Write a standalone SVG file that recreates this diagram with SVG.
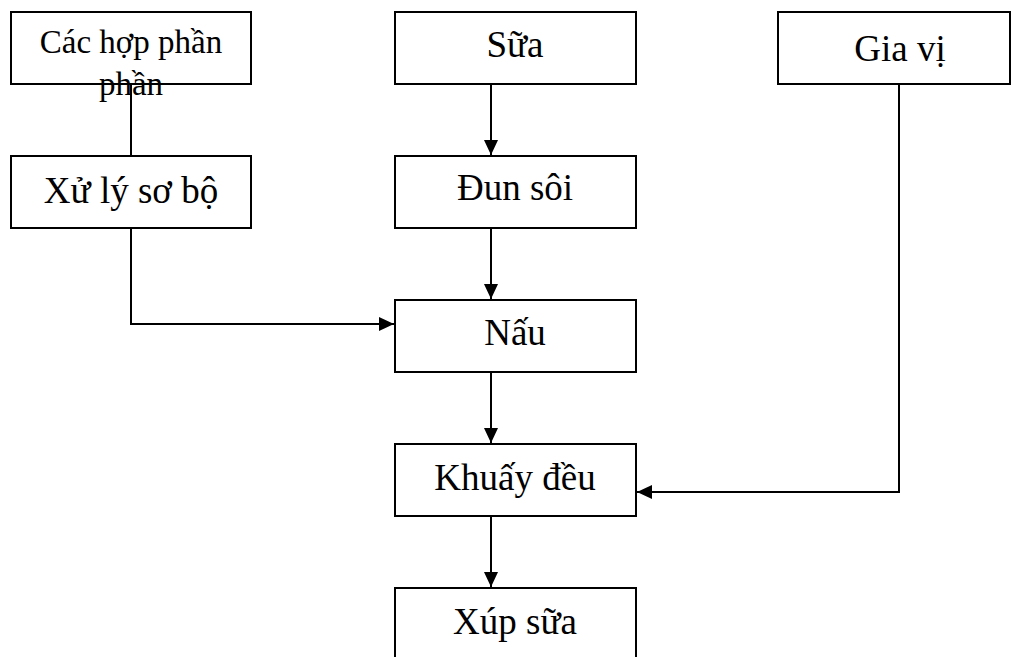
<svg xmlns="http://www.w3.org/2000/svg" width="1011" height="657" viewBox="0 0 1011 657">
<style>
.box{fill:#fff;stroke:#000;stroke-width:2}
.t{font-family:"Liberation Serif","Times New Roman",serif;font-size:37px;fill:#000;text-anchor:middle}
.s{font-size:33px}
.c{fill:none;stroke:#000;stroke-width:2}
</style>
<defs>
<marker id="ah" markerWidth="16" markerHeight="16" refX="15" refY="8" orient="auto" markerUnits="userSpaceOnUse">
<path d="M0,1 L15,8 L0,15 Z" fill="#000"/>
</marker>
</defs>
<rect width="1011" height="657" fill="#fff"/>
<g id="connectors">
<line class="c" x1="131" y1="84" x2="131" y2="156"/>
<polyline class="c" points="131,228 131,324 394,324" marker-end="url(#ah)"/>
<line class="c" x1="491" y1="84" x2="491" y2="155" marker-end="url(#ah)"/>
<line class="c" x1="491" y1="228" x2="491" y2="299" marker-end="url(#ah)"/>
<line class="c" x1="491" y1="372" x2="491" y2="443" marker-end="url(#ah)"/>
<line class="c" x1="491" y1="516" x2="491" y2="587" marker-end="url(#ah)"/>
<polyline class="c" points="899,84 899,492 637,492" marker-end="url(#ah)"/>
</g>
<g id="n1"><rect class="box" x="11" y="12" width="240" height="72"/><text class="t s" x="131" y="53">Các hợp phần</text></g>
<text class="t s" x="131" y="95">phần</text>
<g id="n2"><rect class="box" x="11" y="156" width="240" height="72"/><text class="t" x="131" y="203">Xử lý sơ bộ</text></g>
<g id="n3"><rect class="box" x="395" y="12" width="241" height="72"/><text class="t" x="515" y="57">Sữa</text></g>
<g id="n4"><rect class="box" x="395" y="156" width="241" height="72"/><text class="t" x="515" y="200">Đun sôi</text></g>
<g id="n5"><rect class="box" x="778" y="12" width="232" height="72"/><text class="t" x="900" y="61">Gia vị</text></g>
<g id="n6"><rect class="box" x="395" y="300" width="241" height="72"/><text class="t" x="515" y="345">Nấu</text></g>
<g id="n7"><rect class="box" x="395" y="444" width="241" height="72"/><text class="t" x="515" y="490">Khuấy đều</text></g>
<g id="n8"><rect class="box" x="395" y="588" width="241" height="80"/><text class="t" x="515" y="634">Xúp sữa</text></g>
</svg>
